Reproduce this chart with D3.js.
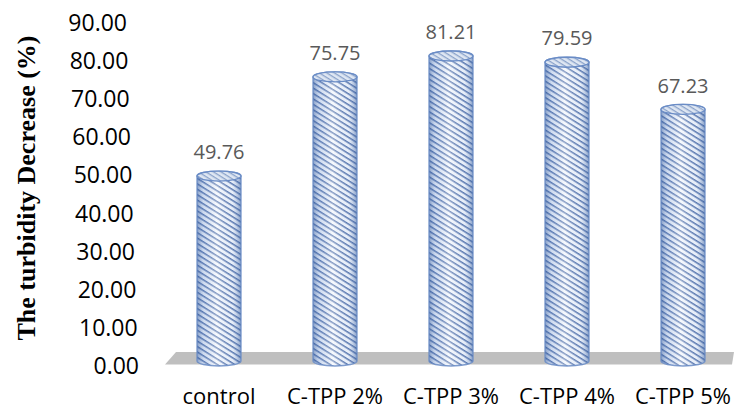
<!DOCTYPE html>
<html>
<head>
<meta charset="utf-8">
<script src="https://cdn.jsdelivr.net/npm/d3@7"></script>
<style>
  html, body { margin: 0; padding: 0; background: #fff; }
  svg { display: block; }
</style>
</head>
<body>
<svg id="chart" width="734" height="412"></svg>
<script>
// Turbidity decrease per treatment
const categories = ["control", "C-TPP 2%", "C-TPP 3%", "C-TPP 4%", "C-TPP 5%"];
const values = [49.76, 75.75, 81.21, 79.59, 67.23];
const tickValues = [0, 10, 20, 30, 40, 50, 60, 70, 80, 90];
const yTitle = "The turbidity Decrease (%)";

const svg = d3.select("#chart");
const defs = svg.append("defs");

// value scale: vertical position of the cylinder tops / tick labels
const y = d3.scaleLinear().domain([0, 90]).range([366, 22.5]);
// perspective slant of the value axis labels
const tickRight = d3.scaleLinear().domain([0, 90]).range([139, 127]);
const x = d3.scalePoint().domain(categories).range([219, 683]);

const rx = 22, ry = 5;

// diagonal hatch for the cylinder bodies
const hatch = defs.append("pattern")
  .attr("id", "hatch")
  .attr("patternUnits", "userSpaceOnUse")
  .attr("width", 4.6).attr("height", 4.6)
  .attr("patternTransform", "rotate(32)");
hatch.append("rect").attr("width", 4.6).attr("height", 4.6).attr("fill", "#f3f7fd");
hatch.append("rect").attr("width", 4.6).attr("height", 1.5).attr("fill", "#4a6aa6");

const hatchTop = defs.append("pattern")
  .attr("id", "hatchTop")
  .attr("patternUnits", "userSpaceOnUse")
  .attr("width", 4).attr("height", 4)
  .attr("patternTransform", "rotate(32)");
hatchTop.append("rect").attr("width", 4).attr("height", 4).attr("fill", "#dfe7f3");
hatchTop.append("rect").attr("width", 4).attr("height", 1.3).attr("fill", "#8aa2ca");

// shading across the cylinder surface
const shade = defs.append("linearGradient").attr("id", "shade")
  .attr("x1", "0").attr("x2", "1").attr("y1", "0").attr("y2", "0");
[
  [0, "#3a60a0", 0.6],
  [0.15, "#7b9bd0", 0.3],
  [0.45, "#ffffff", 0.35],
  [0.8, "#a9bfe2", 0.15],
  [1, "#3a60a0", 0.6]
].forEach(([o, c, a]) => shade.append("stop")
  .attr("offset", o).attr("stop-color", c).attr("stop-opacity", a));

// floor
const floorTop = 352, floorBottom = 364.5;
svg.append("path")
  .attr("d", `M165,${floorBottom} L176,${floorTop} L734,${floorTop} L732,${floorBottom} Z`)
  .attr("fill", "#bfbfbf");

// value axis labels
const tickFont = "'Open Sans', 'Liberation Sans', sans-serif";
svg.append("g").selectAll("text")
  .data(tickValues)
  .join("text")
  .attr("x", d => tickRight(d))
  .attr("y", d => y(d))
  .attr("dy", "0.36em")
  .attr("text-anchor", "end")
  .attr("font-family", tickFont)
  .attr("font-size", 23)
  .attr("fill", "#000")
  .text(d => d.toFixed(2));

// axis title
svg.append("text")
  .attr("transform", `translate(35,188) rotate(-90)`)
  .attr("text-anchor", "middle")
  .attr("font-family", "'Liberation Serif', 'Times New Roman', serif")
  .attr("font-weight", "bold")
  .attr("font-size", 26)
  .attr("fill", "#000")
  .text(yTitle);

// cylinders
const bars = svg.append("g").selectAll("g")
  .data(categories.map((c, i) => ({ c, v: values[i] })))
  .join("g");

const baseY = y(0) - 5;

function bodyPath(d) {
  const cx = x(d.c), top = y(d.v);
  return `M${cx - rx},${top} L${cx - rx},${baseY}` +
    ` A${rx},${ry} 0 0 0 ${cx + rx},${baseY}` +
    ` L${cx + rx},${top}` +
    ` A${rx},${ry} 0 0 0 ${cx - rx},${top} Z`;
}

bars.append("path").attr("d", bodyPath).attr("fill", "url(#hatch)");
bars.append("path").attr("d", bodyPath).attr("fill", "url(#shade)")
  .attr("stroke", "#6a8cc6").attr("stroke-width", 1.4).attr("stroke-opacity", 0.85);

bars.append("ellipse")
  .attr("cx", d => x(d.c)).attr("cy", d => y(d.v))
  .attr("rx", rx).attr("ry", ry)
  .attr("fill", "url(#hatchTop)")
  .attr("stroke", "#6a8cc6").attr("stroke-width", 1.4);

// value labels
bars.append("text")
  .attr("x", d => x(d.c))
  .attr("y", d => y(d.v) - 24)
  .attr("dy", "0.36em")
  .attr("text-anchor", "middle")
  .attr("font-family", tickFont)
  .attr("font-size", 20)
  .attr("fill", "#595959")
  .text(d => d.v.toFixed(2));

// category labels
svg.append("g").selectAll("text")
  .data(categories)
  .join("text")
  .attr("x", d => x(d))
  .attr("y", 404)
  .attr("text-anchor", "middle")
  .attr("font-family", tickFont)
  .attr("font-size", 22)
  .attr("fill", "#000")
  .text(d => d);
</script>
</body>
</html>
